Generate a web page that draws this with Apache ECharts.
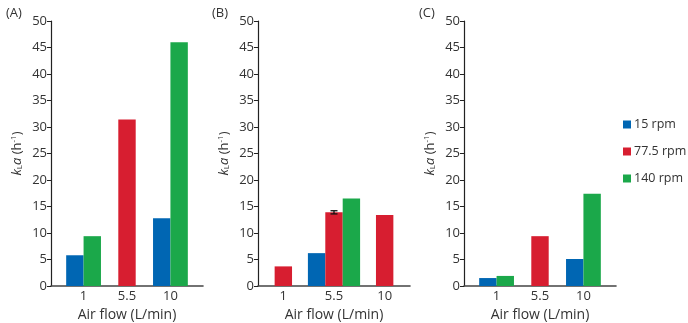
<!DOCTYPE html>
<html>
<head>
<meta charset="utf-8">
<script src="https://cdn.jsdelivr.net/npm/echarts@6/dist/echarts.min.js"></script>
<style>
  html, body { margin: 0; padding: 0; background: #fff; }
  #chart { width: 688px; height: 323px; }
</style>
</head>
<body>
<div id="chart"></div>
<script>
// air flow categories and stirrer speeds
var airFlow = ['1', '5.5', '10'];
var rpmNames = ['15 rpm', '77.5 rpm', '140 rpm'];
var rpmColors = ['#0066b3', '#d71e30', '#1ba84a'];
var yTicks = [0, 5, 10, 15, 20, 25, 30, 35, 40, 45, 50];

// kLa values (h-1), null = not measured
var kLaA15 = [5.8, null, 12.8];
var kLaA775 = [null, 31.4, null];
var kLaA140 = [9.4, null, 46.0];

var kLaB15 = [null, 6.2, null];
var kLaB775 = [3.7, 13.9, 13.4];
var kLaB140 = [null, 16.5, null];
var errB775 = [null, 0.3, null];

var kLaC15 = [1.5, null, 5.1];
var kLaC775 = [null, 9.4, null];
var kLaC140 = [1.9, null, 17.4];

var panels = [
  { label: '(A)', series: [kLaA15, kLaA775, kLaA140], err: null,
    left: 51, xMax: 7, catPos: [1.5, 3.5, 5.5], labelX: 6 },
  { label: '(B)', series: [kLaB15, kLaB775, kLaB140], err: [null, errB775, null],
    left: 258, xMax: 6, catPos: [1, 3, 5], labelX: 212 },
  { label: '(C)', series: [kLaC15, kLaC775, kLaC140], err: null,
    left: 464, xMax: 7, catPos: [1.5, 3.5, 5.5], labelX: 419 }
];

var BAR_W = 17.4;
var textColor = '#333';
var fontFamily = '"Open Sans", sans-serif';

// bar placed by slot among the bars present in its group
function renderBar(params, api) {
  var c = api.value(0), v = api.value(1), slot = api.value(2), n = api.value(3);
  var base = api.coord([c, 0]);
  var top = api.coord([c, v]);
  var x = base[0] - n * BAR_W / 2 + slot * BAR_W;
  return {
    type: 'rect',
    shape: { x: x, y: top[1], width: BAR_W, height: base[1] - top[1] },
    style: api.style()
  };
}

function renderErr(params, api) {
  var c = api.value(0), v = api.value(1), e = api.value(2), slot = api.value(3), n = api.value(4);
  var base = api.coord([c, 0]);
  var hi = api.coord([c, v + e]);
  var lo = api.coord([c, v - e]);
  var cx = base[0] - n * BAR_W / 2 + (slot + 0.5) * BAR_W;
  var w = 3.5;
  var st = { stroke: '#111', lineWidth: 1.3 };
  return {
    type: 'group',
    children: [
      { type: 'line', shape: { x1: cx, y1: hi[1], x2: cx, y2: lo[1] }, style: st },
      { type: 'line', shape: { x1: cx - w, y1: hi[1], x2: cx + w, y2: hi[1] }, style: st },
      { type: 'line', shape: { x1: cx - w, y1: lo[1], x2: cx + w, y2: lo[1] }, style: st }
    ]
  };
}

var grids = [], xAxes = [], yAxes = [], series = [], graphics = [];

panels.forEach(function (p, pi) {
  grids.push({ left: p.left, width: 152, top: 21, height: 265, outerBoundsMode: 'none', containLabel: false });

  xAxes.push({
    type: 'value', gridIndex: pi, min: 0, max: p.xMax,
    interval: p.xMax === 7 ? 0.5 : 1,
    name: 'Air flow (L/min)', nameLocation: 'middle', nameGap: 20,
    nameTextStyle: { color: textColor, fontSize: 14, fontFamily: fontFamily },
    axisLine: { show: true, lineStyle: { color: '#444', width: 1.6 } },
    axisTick: { show: false },
    splitLine: { show: false },
    axisLabel: {
      color: textColor, fontSize: 13, fontFamily: fontFamily, margin: 4,
      formatter: function (v) {
        var i = p.catPos.indexOf(v);
        return i >= 0 ? airFlow[i] : '';
      }
    }
  });

  yAxes.push({
    type: 'value', gridIndex: pi, min: yTicks[0], max: yTicks[yTicks.length - 1], interval: 5,
    name: '{i|k}{sub|L}{i|a} (h{sup|-1})',
    nameLocation: 'middle', nameRotate: 90, nameGap: 27,
    nameTextStyle: {
      color: textColor, fontSize: 13, fontFamily: fontFamily,
      rich: {
        i: { fontStyle: 'italic', fontSize: 13, color: textColor, fontFamily: fontFamily },
        sub: { fontSize: 8, color: textColor, fontFamily: fontFamily, verticalAlign: 'bottom', padding: [6, 0, 0, 0] },
        sup: { fontSize: 8, color: textColor, fontFamily: fontFamily, verticalAlign: 'top', padding: [0, 0, 5, 0] }
      }
    },
    axisLine: { show: true, lineStyle: { color: '#222', width: 1.2 } },
    axisTick: { show: true, length: 4, lineStyle: { color: '#222' } },
    splitLine: { show: false },
    axisLabel: { color: textColor, fontSize: 13, fontFamily: fontFamily, margin: 4 }
  });

  // which series have a bar in each group
  var present = airFlow.map(function (a, ci) {
    var list = [];
    p.series.forEach(function (s, si) { if (s[ci] != null) list.push(si); });
    return list;
  });

  p.series.forEach(function (vals, si) {
    var data = [];
    vals.forEach(function (v, ci) {
      if (v == null) return;
      data.push([p.catPos[ci], v, present[ci].indexOf(si), present[ci].length]);
    });
    series.push({
      type: 'custom', name: rpmNames[si], xAxisIndex: pi, yAxisIndex: pi,
      itemStyle: { color: rpmColors[si] },
      renderItem: renderBar, data: data, silent: true,
      encode: { x: 0, y: 1 }
    });
  });

  if (p.err) {
    p.err.forEach(function (errs, si) {
      if (!errs) return;
      var data = [];
      errs.forEach(function (e, ci) {
        if (e == null) return;
        data.push([p.catPos[ci], p.series[si][ci], e, present[ci].indexOf(si), present[ci].length]);
      });
      series.push({
        type: 'custom', xAxisIndex: pi, yAxisIndex: pi, z: 5,
        renderItem: renderErr, data: data, silent: true,
        encode: { x: 0, y: 1 }
      });
    });
  }

  graphics.push({
    type: 'text', left: p.labelX, top: 7,
    style: { text: p.label, fill: textColor, fontSize: 13, fontFamily: fontFamily }
  });
});

var chart = echarts.init(document.getElementById('chart'), null, { renderer: 'canvas' });
chart.setOption({
  animation: false,
  grid: grids,
  xAxis: xAxes,
  yAxis: yAxes,
  legend: {
    data: rpmNames.map(function (n) { return { name: n, icon: 'rect' }; }),
    orient: 'vertical', left: 623, top: 118, padding: 0,
    itemWidth: 8, itemHeight: 8, itemGap: 14,
    textStyle: { color: textColor, fontSize: 12.5, fontFamily: fontFamily, padding: [0, 0, 0, -2] }
  },
  graphic: graphics,
  series: series
});
</script>
</body>
</html>
